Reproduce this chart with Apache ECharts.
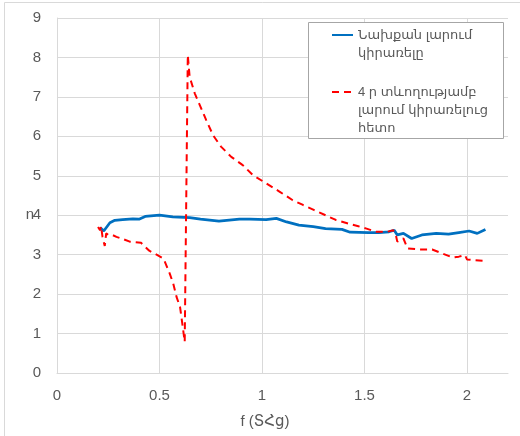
<!DOCTYPE html>
<html>
<head>
<meta charset="utf-8">
<script src="https://cdn.jsdelivr.net/npm/echarts@6/dist/echarts.min.js"></script>
<style>
html,body{margin:0;padding:0;background:#fff;}
#chart{width:520px;height:436px;}
</style>
</head>
<body>
<div id="chart"></div>
<script>
// Tick labels
const xTicks = [0, 0.5, 1, 1.5, 2];
const yTicks = [0, 1, 2, 3, 4, 5, 6, 7, 8, 9];

// Series names
const blueName = 'Նախքան լարում կիրառելը';
const redName = '4 ր տևողությամբ լարում կիրառելուց հետո';

// Before voltage (blue)
const blueF = [0.21, 0.228, 0.258, 0.282, 0.32, 0.37, 0.40, 0.43, 0.50, 0.565, 0.647, 0.70, 0.79, 0.89, 0.94, 1.02, 1.07, 1.12, 1.18, 1.25, 1.31, 1.39, 1.43, 1.52, 1.57, 1.62, 1.645, 1.66, 1.69, 1.73, 1.78, 1.85, 1.91, 1.96, 2.01, 2.05, 2.09];
const blueN = [3.69, 3.60, 3.81, 3.87, 3.89, 3.91, 3.90, 3.97, 4.00, 3.96, 3.94, 3.90, 3.85, 3.90, 3.90, 3.89, 3.92, 3.83, 3.75, 3.71, 3.66, 3.64, 3.57, 3.56, 3.56, 3.58, 3.62, 3.50, 3.54, 3.41, 3.50, 3.54, 3.52, 3.56, 3.60, 3.54, 3.64];

// After 4 min voltage (red dashed)
const redF = [0.20, 0.21, 0.215, 0.222, 0.233, 0.24, 0.25, 0.27, 0.29, 0.315, 0.355, 0.41, 0.45, 0.49, 0.52, 0.55, 0.567, 0.583, 0.60, 0.607, 0.623, 0.628, 0.638, 0.647, 0.672, 0.696, 0.728, 0.761, 0.80, 0.85, 0.906, 0.955, 1.02, 1.085, 1.15, 1.20, 1.255, 1.31, 1.36, 1.42, 1.47, 1.51, 1.556, 1.61, 1.64, 1.655, 1.66, 1.69, 1.71, 1.77, 1.83, 1.88, 1.93, 1.96, 1.99, 2.00, 2.04, 2.09];
const redN = [3.70, 3.62, 3.72, 3.45, 3.22, 3.54, 3.50, 3.50, 3.45, 3.41, 3.33, 3.30, 3.10, 2.99, 2.90, 2.52, 2.27, 1.93, 1.68, 1.42, 0.79, 0.75, 8.06, 7.51, 7.09, 6.80, 6.41, 6.03, 5.74, 5.48, 5.27, 5.02, 4.81, 4.60, 4.38, 4.26, 4.13, 4.00, 3.88, 3.79, 3.72, 3.66, 3.58, 3.58, 3.62, 3.45, 3.33, 3.41, 3.16, 3.13, 3.13, 3.03, 2.93, 2.95, 2.99, 2.88, 2.86, 2.84];

const zip = (a, b) => a.map((v, i) => [v, b[i]]);
const FONT = '"Liberation Sans", "DejaVu Sans", sans-serif';
const TXT = '#595959';
const GRID = '#d9d9d9';

const legendText = {fontFamily: FONT, fontSize: 13, color: TXT, lineHeight: 18};

const chart = echarts.init(document.getElementById('chart'), null, {renderer: 'canvas'});
chart.setOption({
  animation: false,
  backgroundColor: '#fff',
  textStyle: {fontFamily: FONT},
  grid: {left: 57, right: 12, top: 18, bottom: 63, containLabel: false},
  graphic: [
    {type: 'rect', z: 0, silent: true, shape: {x: 4.5, y: 2.5, width: 700, height: 700},
     style: {fill: 'none', stroke: GRID, lineWidth: 1}},
    {type: 'rect', z: 3, silent: true, shape: {x: 308.5, y: 22.5, width: 195, height: 116},
     style: {fill: '#fff', stroke: '#a6a6a6', lineWidth: 1}}
  ],
  legend: [
    {
      data: [blueName], orient: 'vertical', left: 331, top: 8, padding: 0,
      itemWidth: 21, itemHeight: 14, z: 5,
      itemStyle: {opacity: 0},
      formatter: () => '\nՆախքան լարում\nկիրառելը',
      textStyle: legendText
    },
    {
      data: [redName], orient: 'vertical', left: 331, top: 47, padding: 0,
      itemWidth: 21, itemHeight: 14, z: 5,
      itemStyle: {opacity: 0},
      formatter: () => '\n\n4 ր տևողությամբ\nլարում կիրառելուց\nհետո',
      textStyle: legendText
    }
  ],
  xAxis: {
    type: 'value', min: 0, max: 2.2, interval: 0.5,
    name: 'f (ՏՀց)', nameLocation: 'middle', nameGap: 49, nameMoveOverlap: false,
    nameTextStyle: {fontFamily: FONT, fontSize: 15, color: TXT, align: 'center', verticalAlign: 'middle', padding: [0, 35, 0, 0]},
    axisLine: {show: true, lineStyle: {color: GRID, width: 1}},
    axisTick: {show: false},
    axisLabel: {
      fontFamily: FONT, fontSize: 15, color: TXT, margin: 15, showMaxLabel: false,
      formatter: v => (xTicks.indexOf(Math.round(v * 10) / 10) >= 0 ? String(Math.round(v * 10) / 10) : '')
    },
    splitLine: {show: true, showMaxLine: false, lineStyle: {color: GRID, width: 1}}
  },
  yAxis: {
    type: 'value', min: 0, max: 9, interval: 1,
    name: '{n|n}', nameLocation: 'middle', nameGap: 23, nameRotate: 0, nameMoveOverlap: false,
    nameTextStyle: {fontFamily: FONT, fontSize: 15, color: TXT,
      rich: {n: {fontFamily: FONT, fontSize: 15, color: TXT, padding: [38, 0, 0, 0]}}},
    axisLine: {show: true, lineStyle: {color: GRID, width: 1}},
    axisTick: {show: false},
    axisLabel: {
      fontFamily: FONT, fontSize: 15, color: TXT, margin: 16,
      formatter: v => (yTicks.indexOf(v) >= 0 ? String(v) : '')
    },
    splitLine: {show: true, lineStyle: {color: GRID, width: 1}}
  },
  series: [
    {
      name: blueName, type: 'line', data: zip(blueF, blueN), showSymbol: false, symbol: 'none',
      z: 2, lineStyle: {color: '#0070C0', width: 2.75}, itemStyle: {color: '#0070C0'}
    },
    {
      name: redName, type: 'line', data: zip(redF, redN), showSymbol: false, symbol: 'none',
      z: 2, lineStyle: {color: '#FF0000', width: 2, type: [7, 5]}, itemStyle: {color: '#FF0000'}
    }
  ]
});
</script>
</body>
</html>
